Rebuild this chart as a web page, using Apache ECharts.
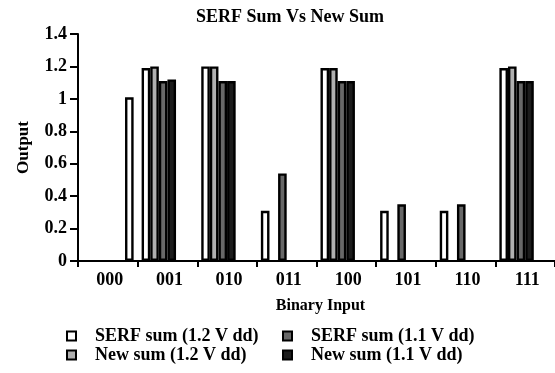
<!DOCTYPE html>
<html>
<head>
<meta charset="utf-8">
<script src="https://cdn.jsdelivr.net/npm/echarts@6/dist/echarts.min.js"></script>
<style>
  html, body { margin: 0; padding: 0; background: #fff; }
  #chart { width: 555px; height: 373px; }
</style>
</head>
<body>
<div id="chart"></div>
<script>
var inputs = ['000', '001', '010', '011', '100', '101', '110', '111'];
var yTicks = [0, 0.2, 0.4, 0.6, 0.8, 1, 1.2, 1.4];

// values
var serf12 = [null, 1.19, 1.2, 0.31, 1.19, 0.31, 0.31, 1.19];
var new12  = [null, 1.2, 1.2, null, 1.19, null, null, 1.2];
var serf11 = [null, 1.11, 1.11, 0.54, 1.11, 0.35, 0.35, 1.11];
var new11  = [null, 1.12, 1.11, null, 1.11, null, null, 1.11];
// empty slot and the lone white bar at the right end of 000
var slot5  = [null, null, null, null, null, null, null, null];
var slot6  = [1.01, null, null, null, null, null, null, null];

var serifFont = "'Liberation Serif', 'Times New Roman', serif";

var chart = echarts.init(document.getElementById('chart'), null, { renderer: 'canvas' });

function barSeries(name, data, color) {
	return {
		name: name,
		type: 'bar',
		data: data,
		barGap: 0,
		barCategoryGap: '13.4%',
		itemStyle: { color: color, borderColor: '#000', borderWidth: 2.4 },
		emphasis: { disabled: true }
	};
}

var legendText = {
	fontFamily: serifFont,
	fontSize: 18,
	fontWeight: 'bold',
	color: '#000',
	lineHeight: 18,
	padding: [0, 0, 0, 14]
};

var option = {
	backgroundColor: '#fff',
	animation: false,
	title: {
		text: 'SERF Sum Vs New Sum',
		left: 196,
		top: 8,
		padding: 0,
		textStyle: { fontFamily: serifFont, fontSize: 18, fontWeight: 'bold', color: '#000' }
	},
	legend: [{
		orient: 'vertical',
		left: 66,
		top: 327,
		padding: 0,
		itemWidth: 9,
		itemHeight: 9,
		itemGap: 1,
		icon: 'rect',
		selectedMode: false,
		textStyle: legendText,
		data: ['SERF sum (1.2 V dd)', 'New sum (1.2 V dd)']
	}, {
		orient: 'vertical',
		left: 282,
		top: 327,
		padding: 0,
		itemWidth: 9,
		itemHeight: 9,
		itemGap: 1,
		icon: 'rect',
		selectedMode: false,
		textStyle: legendText,
		data: ['SERF sum (1.1 V dd)', 'New sum (1.1 V dd)']
	}],
	grid: {
		left: 78,
		right: 0,
		top: 34,
		bottom: 112,
		containLabel: false
	},
	xAxis: {
		type: 'category',
		data: inputs,
		name: 'Binary Input',
		nameLocation: 'middle',
		nameGap: 37,
		nameTextStyle: { fontFamily: serifFont, fontSize: 16, fontWeight: 'bold', color: '#000', padding: [0, 0, 0, 8] },
		axisLine: { lineStyle: { color: '#000', width: 2 } },
		axisTick: { show: true, length: 6, lineStyle: { color: '#000', width: 2 } },
		axisLabel: {
			margin: 10,
			padding: [0, 0, 0, 4],
			fontFamily: serifFont,
			fontSize: 18,
			fontWeight: 'bold',
			color: '#000'
		},
		splitLine: { show: false }
	},
	yAxis: {
		type: 'value',
		min: yTicks[0],
		max: yTicks[yTicks.length - 1],
		interval: 0.2,
		name: 'Output',
		nameLocation: 'middle',
		nameGap: 46,
		nameRotate: 90,
		nameTextStyle: { fontFamily: serifFont, fontSize: 17, fontWeight: 'bold', color: '#000' },
		axisLine: { show: true, lineStyle: { color: '#000', width: 2 } },
		axisTick: { show: true, length: 8, lineStyle: { color: '#000', width: 2 } },
		axisLabel: {
			margin: 11,
			fontFamily: serifFont,
			fontSize: 18,
			fontWeight: 'bold',
			color: '#000'
		},
		splitLine: { show: false }
	},
	series: [
		barSeries('SERF sum (1.2 V dd)', serf12, '#ffffff'),
		barSeries('New sum (1.2 V dd)', new12, '#b0b0b0'),
		barSeries('SERF sum (1.1 V dd)', serf11, '#686868'),
		barSeries('New sum (1.1 V dd)', new11, '#1c1c1c'),
		barSeries('slot5', slot5, '#ffffff'),
		barSeries('slot6', slot6, '#ffffff')
	]
};

chart.setOption(option);
</script>
</body>
</html>
